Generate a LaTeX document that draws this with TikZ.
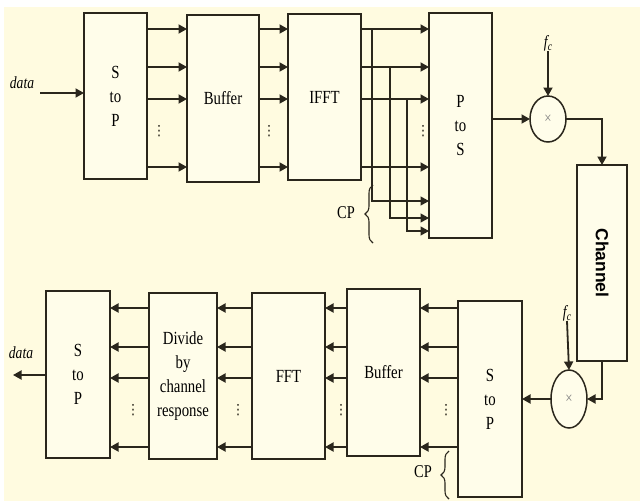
\documentclass[tikz,border=0pt]{standalone}
\usepackage{fontspec}
\setmainfont{Liberation Serif}[FakeStretch=0.8]
\newfontfamily\chanfont{Liberation Sans}
\newfontfamily\dotfont{DejaVu Sans}
\usetikzlibrary{arrows.meta,shapes.geometric,decorations.pathreplacing}
\definecolor{bgc}{HTML}{FFFBE0}
\definecolor{boxc}{HTML}{FFFDEA}
\definecolor{linec}{HTML}{2A261C}
\begin{document}
\begin{tikzpicture}[x=1pt,y=-1pt,
  blk/.style={draw=linec, line width=1.5pt, fill=boxc, rectangle, inner sep=0pt, outer sep=0pt, anchor=north west, align=center, font=\fontsize{18.5}{24}\selectfont},
  arr/.style={draw=linec, line width=1.8pt, -{Triangle[length=8.5pt,width=9pt]}},
  carr/.style={draw=linec, line width=1.3pt, -{Triangle[length=8.5pt,width=9pt]}},
  mul/.style={draw=linec, line width=1.5pt, fill=boxc, ellipse, inner sep=0pt, outer sep=0pt, font=\fontsize{16}{16}\selectfont, text=gray},
  lbl/.style={font=\fontsize{17}{17}\selectfont\itshape, inner sep=0pt},
  cpl/.style={font=\fontsize{18}{18}\selectfont, inner sep=0pt},
  dts/.style={font=\dotfont\fontsize{14}{14}\selectfont, inner sep=0pt, text=linec},
  brc/.style={draw=linec, line width=1.1pt, decorate, decoration={brace, amplitude=8pt}},
]
\useasboundingbox (0,0) rectangle (640,501);
\fill[white] (0,0) rectangle (640,501);
\fill[bgc] (4,7) rectangle (640,501);

% row coordinates
\coordinate (t1) at (0,29);
\coordinate (t2) at (0,67);
\coordinate (t3) at (0,99);
\coordinate (t4) at (0,167);
\coordinate (c1) at (0,201);
\coordinate (c2) at (0,218);
\coordinate (c3) at (0,231);
\coordinate (b1) at (0,308);
\coordinate (b2) at (0,347);
\coordinate (b3) at (0,378);
\coordinate (b4) at (0,447);

% top row blocks
\node[blk, minimum width=63pt, minimum height=166pt] (sp1) at (84,13) {S\\to\\P};
\node[blk, minimum width=72pt, minimum height=167pt] (buf1) at (187,15) {Buffer};
\node[blk, minimum width=73pt, minimum height=166pt] (ifft) at (288,14) {IFFT};
\node[blk, minimum width=63pt, minimum height=225pt] (ps) at (429,13) {P\\to\\S};
\node[mul, minimum width=36pt, minimum height=46pt] (mul1) at (548,119) {×};
\node[blk, minimum width=50pt, minimum height=196pt] (chan) at (577,165) {};
\node[font=\chanfont\bfseries\fontsize{17.5}{17.5}\selectfont, rotate=-90, inner sep=0pt] (chantxt) at (chan.center) {Channel};

% bottom row blocks
\node[mul, minimum width=36pt, minimum height=58pt] (mul2) at (569,399) {×};
\node[blk, minimum width=64pt, minimum height=196pt] (sp2) at (458,301) {S\\to\\P};
\node[blk, minimum width=73pt, minimum height=167pt] (buf2) at (347,289) {Buffer};
\node[blk, minimum width=73pt, minimum height=166pt] (fft) at (252,293) {FFT};
\node[blk, minimum width=68pt, minimum height=166pt] (div) at (149,293) {Divide\\by\\channel\\response};
\node[blk, minimum width=64pt, minimum height=167pt] (sp3) at (46,291) {S\\to\\P};

% labels
\node[lbl] (din) at (22,83) {data};
\coordinate (datain) at (40,93);
\node[lbl] (dout) at (21,353) {data};
\coordinate (dataout) at (13,375);
\node[lbl] (fc1) at (548,43) {f\raisebox{-3pt}{\fontsize{12}{12}\selectfont c}};
\node[lbl] (fc2) at (567,313) {f\raisebox{-3pt}{\fontsize{12}{12}\selectfont c}};

% input
\draw[arr] (datain) -- (sp1.west |- datain);

% top connections
\foreach \r in {t1,t2,t3,t4} {
  \draw[arr] (sp1.east |- \r) -- (buf1.west |- \r);
  \draw[arr] (buf1.east |- \r) -- (ifft.west |- \r);
  \draw[arr] (ifft.east |- \r) -- (ps.west |- \r);
}
\coordinate (v1) at (372,29);
\coordinate (v2) at (390,67);
\coordinate (v3) at (407,99);
\draw[carr] (v1) |- (ps.west |- c1);
\draw[carr] (v2) |- (ps.west |- c2);
\draw[carr] (v3) |- (ps.west |- c3);

% dots top
\node[dts] (d1) at (159,131) {⋮};
\node[dts] (d2) at (269,131) {⋮};
\node[dts] (d3) at (423,131) {⋮};

% CP brace top
\draw[brc] (373,243) -- (373,185);
\node[cpl] (cp1) at (346,213) {CP};

% modulator and channel
\draw[arr] (ps.east |- mul1.west) -- (mul1.west);
\draw[arr] (fc1.south) -- (mul1.north);
\draw[arr] (mul1.east) -| (chan.north);
\draw[arr] (chan.south) |- (mul2.east);
\draw[arr] (fc2.south) -- (mul2.north);
\draw[arr] (mul2.west) -- (sp2.east |- mul2.west);

% bottom connections
\foreach \r in {b1,b2,b3,b4} {
  \draw[arr] (sp2.west |- \r) -- (buf2.east |- \r);
  \draw[arr] (buf2.west |- \r) -- (fft.east |- \r);
  \draw[arr] (fft.west |- \r) -- (div.east |- \r);
  \draw[arr] (div.west |- \r) -- (sp3.east |- \r);
}
\draw[arr] (sp3.west |- dataout) -- (dataout);

% dots bottom
\node[dts] (d4) at (446,410) {⋮};
\node[dts] (d5) at (341,410) {⋮};
\node[dts] (d6) at (238,410) {⋮};
\node[dts] (d7) at (133,410) {⋮};

% CP brace bottom
\draw[brc] (449,499) -- (449,451);
\node[cpl] (cp2) at (423,472) {CP};
\end{tikzpicture}
\end{document}
